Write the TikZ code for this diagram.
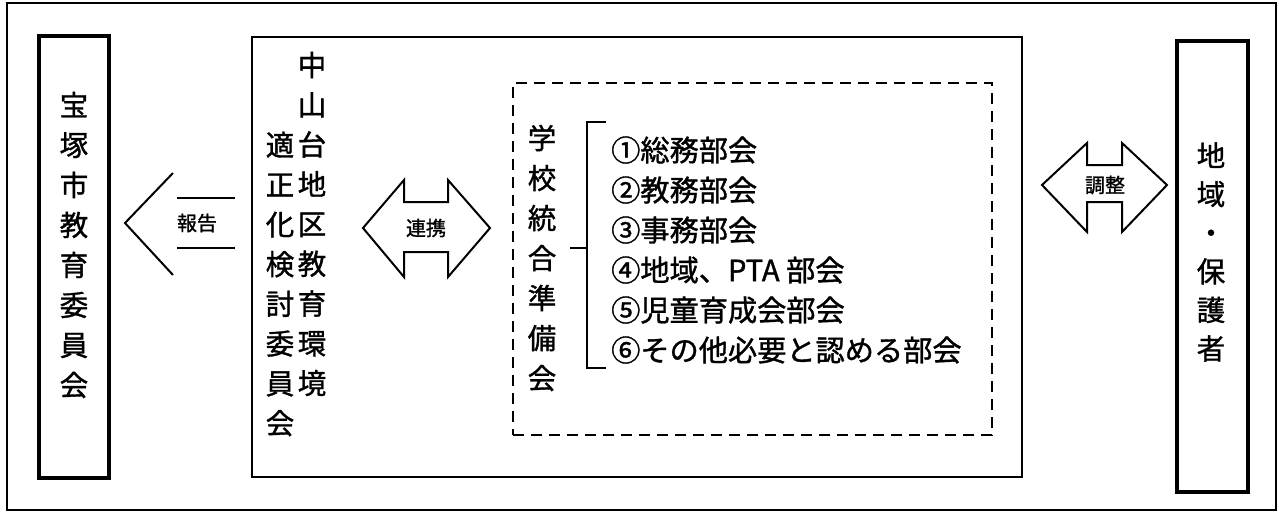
\documentclass[tikz,border=0pt]{standalone}
\usepackage{fontspec}
\newfontfamily\jp[FakeBold=1.2]{Noto Sans CJK JP}
\begin{document}
\begin{tikzpicture}[x=1pt,y=-1pt,
  outerframe/.style={draw, line width=2pt, inner sep=0},
  thickbox/.style={draw, line width=3.2pt, inner sep=0},
  midbox/.style={draw, line width=2pt, inner sep=0},
  dashbox/.style={draw, line width=2pt, dash pattern=on 11pt off 7pt, inner sep=0},
  vtext/.style={font=\jp\fontsize{28.5}{40}\selectfont, align=center, inner sep=0},
  listtext/.style={font=\jp\fontsize{29.2}{40}\selectfont, align=left, inner sep=0},
  smalltext/.style={font=\jp\fontsize{20}{24}\selectfont, inner sep=0},
  outline/.style={draw, line width=2pt, line join=miter}]
\useasboundingbox (0,0) rectangle (1279,515);
% frames
\node[outerframe, minimum width=1269pt, minimum height=507pt] (frame) at (641.5,256.5) {};
\node[thickbox, minimum width=70pt, minimum height=442pt] (moe) at (74,257) {};
\node[midbox, minimum width=770pt, minimum height=440pt] (comm) at (637,257) {};
\node[dashbox, minimum width=479pt, minimum height=352pt] (prep) at (752.5,259) {};
\node[thickbox, minimum width=71pt, minimum height=451pt] (local) at (1212.5,266.5) {};
% texts
\node[vtext] (moetext) at (74,245) {宝\\塚\\市\\教\\育\\委\\員\\会};
\node[vtext, font=\jp\fontsize{28.5}{39.75}\selectfont] (commA) at (312,224) {中\\山\\台\\地\\区\\教\\育\\環\\境};
\node[vtext, font=\jp\fontsize{28.5}{39.75}\selectfont] (commB) at (280,284) {適\\正\\化\\検\\討\\委\\員\\会};
\node[vtext] (preptext) at (542,258) {学\\校\\統\\合\\準\\備\\会};
\node[listtext, anchor=west] (list) at (611,250) {①総務部会\\②教務部会\\③事務部会\\④地域、PTA 部会\\⑤児童育成会部会\\⑥その他必要と認める部会};
\node[vtext, font=\jp\fontsize{28.5}{38.6}\selectfont] (localtext) at (1211,252) {地\\域\\・\\保\\護\\者};
% bracket
\coordinate (bt) at (606,122);
\coordinate (bb) at (606,368);
\coordinate (bm) at (570,248);
\draw[line width=1.5pt] (bt) -- (587,122) -- (587,368) -- (bb);
\draw[line width=1.5pt] (bm) -- (587,248);
% report arrow
\draw[outline] (173,173) -- (125,223) -- (173,275);
\draw[line width=1.5pt] (177,198) -- (235,198);
\draw[line width=1.5pt] (177,248) -- (235,248);
\node[smalltext] (report) at (197,223) {報告};
% liaison double arrow
\draw[outline] (363,228) -- (404,180) -- (404,202) -- (448,202) -- (448,180) -- (490,228)
  -- (448,277) -- (448,252) -- (404,252) -- (404,277) -- cycle;
\node[smalltext] (liaison) at (426,228) {連携};
% adjust double arrow
\draw[outline] (1042,185) -- (1087,143) -- (1087,165) -- (1122,165) -- (1122,143) -- (1167,185)
  -- (1122,232) -- (1122,202) -- (1087,202) -- (1087,232) -- cycle;
\node[smalltext] (adjust) at (1105,185) {調整};
\end{tikzpicture}
\end{document}
